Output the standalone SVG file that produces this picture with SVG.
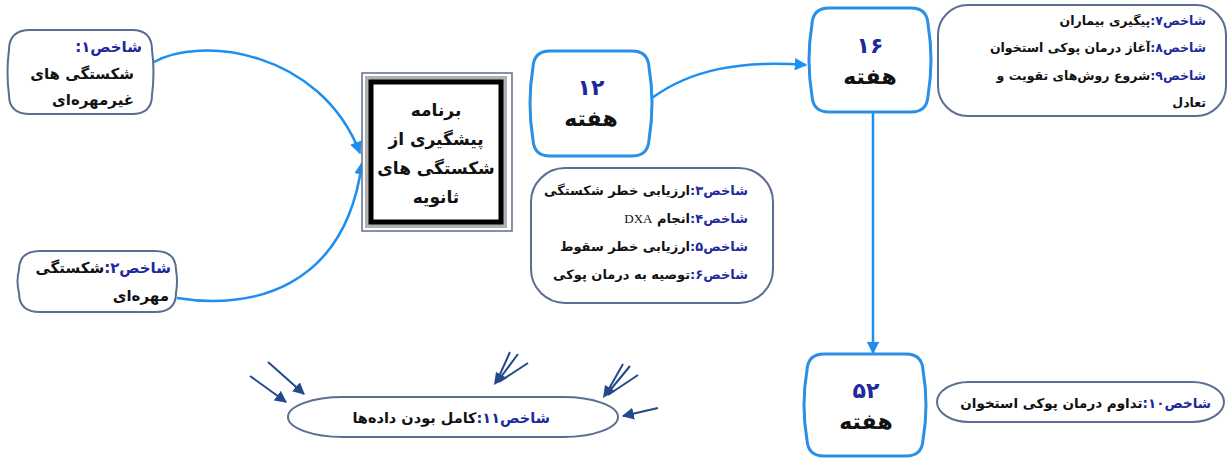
<svg xmlns="http://www.w3.org/2000/svg" width="1229" height="464" viewBox="0 0 1229 464">
<defs>
<style>
.t{font-family:"DejaVu Sans","Noto Sans",sans-serif;font-weight:bold;fill:#111;direction:rtl}
.k{fill:#1c2a9c}
.box{fill:#fff;stroke:#5b6d93;stroke-width:2}
.wk{fill:#fff;stroke:#2a8fe6;stroke-width:3}
.con{fill:none;stroke:#1e8ff0;stroke-width:2.5}
.dec{fill:none;stroke:#23498a;stroke-width:2}
</style>
<marker id="ab" viewBox="0 0 10 10" refX="9" refY="5" markerWidth="5" markerHeight="5" orient="auto" markerUnits="strokeWidth">
<path d="M0,0 L10,5 L0,10 Z" fill="#1e8ff0"/>
</marker>
<marker id="ad" viewBox="0 0 10 10" refX="9" refY="5" markerWidth="6" markerHeight="6" orient="auto" markerUnits="strokeWidth">
<path d="M0,0 L10,5 L0,10 Z" fill="#23498a"/>
</marker>
</defs>
<rect width="1229" height="464" fill="#fff"/>

<g id="connectors">
<path class="con" d="M152,63 C200,35 320,50 360,153" marker-end="url(#ab)"/>
<path class="con" d="M177,298 C250,310 345,290 362,163" marker-end="url(#ab)"/>
<path class="con" d="M652,98 C690,70 740,60 806,65" marker-end="url(#ab)"/>
<path class="con" d="M873,112 L873,353" marker-end="url(#ab)"/>
<path class="dec" d="M250,376 L286,402" marker-end="url(#ad)"/>
<path class="dec" d="M268,362 L304,394" marker-end="url(#ad)"/>
<path class="dec" d="M510,352 L497,381 M518,354 L498,381 M528,363 L499,382"/>
<path fill="#23498a" d="M494,385 L496,372 L507,378 Z"/>
<path class="dec" d="M623,364 L606,394 M630,366 L607,394 M638,375 L608,395"/>
<path fill="#23498a" d="M603,398 L605,385 L615,391 Z"/>
<path class="dec" d="M658,408 L623,416" marker-end="url(#ad)"/>
</g>

<g id="n1">
<path class="box" d="M30,30 L132,30 Q152,30 152,50 Q155,72 152,95 Q152,114 132,114 L30,114 Q9,114 9,95 Q6,72 9,50 Q9,30 30,30 Z"/>
<text class="t" x="142" y="52" font-size="15"><tspan class="k">شاخص۱:</tspan></text>
<text class="t" x="134" y="79" font-size="15">شکستگی های</text>
<text class="t" x="134" y="105" font-size="15">غیرمهره‌ای</text>
</g>

<g id="n2">
<path class="box" d="M40,251 L155,251 Q176,251 176,270 Q178,281 176,293 Q176,312 155,312 L40,312 Q19,312 19,293 Q16,281 19,270 Q19,251 40,251 Z"/>
<text class="t" x="171" y="273" font-size="15"><tspan class="k">شاخص۲:</tspan>شکستگی</text>
<text class="t" x="169" y="301" font-size="15">مهره‌ای</text>
</g>

<g id="n0">
<rect x="362" y="73" width="150" height="158" fill="#fff" stroke="#5b6d93" stroke-width="1.5"/>
<rect x="369" y="80" width="134" height="144" fill="none" stroke="#b0b0b0" stroke-width="8"/>
<rect x="371" y="82" width="130" height="140" fill="#fff" stroke="#000" stroke-width="5"/>
<text class="t" x="436" y="116" font-size="17" text-anchor="middle">برنامه</text>
<text class="t" x="436" y="145" font-size="17" text-anchor="middle">پیشگیری از</text>
<text class="t" x="436" y="174" font-size="17" text-anchor="middle">شکستگی های</text>
<text class="t" x="436" y="203" font-size="17" text-anchor="middle">ثانویه</text>
</g>

<g id="n12">
<path class="wk" d="M550,51 L632,51 Q648,51 649,67 Q655,103 649,140 Q648,156 632,156 L550,156 Q534,156 533,140 Q527,103 533,67 Q534,51 550,51 Z"/>
<text class="t" x="591" y="95" font-size="22" text-anchor="middle" style="fill:#1c2a9c">۱۲</text>
<text class="t" x="591" y="126" font-size="22" text-anchor="middle">هفته</text>
</g>

<g id="n36">
<rect class="box" x="531" y="168" width="242" height="135" rx="34" ry="34"/>
<text class="t" x="748" y="195" font-size="13"><tspan class="k">شاخص۳:</tspan>ارزیابی خطر شکستگی</text>
<text class="t" x="748" y="223" font-size="13"><tspan class="k">شاخص۴:</tspan>انجام <tspan style="font-family:'Liberation Serif',serif;font-weight:normal">DXA</tspan></text>
<text class="t" x="748" y="251" font-size="13"><tspan class="k">شاخص۵:</tspan>ارزیابی خطر سقوط</text>
<text class="t" x="748" y="279" font-size="13"><tspan class="k">شاخص۶:</tspan>توصیه به درمان پوکی</text>
</g>

<g id="n16">
<path class="wk" d="M829,8 L911,8 Q927,8 928,24 Q934,60 928,96 Q927,112 911,112 L829,112 Q813,112 812,96 Q806,60 812,24 Q813,8 829,8 Z"/>
<text class="t" x="870" y="53" font-size="22" text-anchor="middle" style="fill:#1c2a9c">۱۶</text>
<text class="t" x="870" y="84" font-size="22" text-anchor="middle">هفته</text>
</g>

<g id="n79">
<rect class="box" x="938" y="5" width="288" height="111" rx="30" ry="30"/>
<text class="t" x="1206" y="25" font-size="12.5"><tspan class="k">شاخص۷:</tspan>پیگیری بیماران</text>
<text class="t" x="1206" y="52" font-size="12.5"><tspan class="k">شاخص۸:</tspan>آغاز درمان پوکی استخوان</text>
<text class="t" x="1206" y="80" font-size="12.5"><tspan class="k">شاخص۹:</tspan>شروع روش‌های تقویت و</text>
<text class="t" x="1206" y="107" font-size="12.5">تعادل</text>
</g>

<g id="n52">
<path class="wk" d="M824,354 L906,354 Q922,354 923,370 Q929,405 923,440 Q922,456 906,456 L824,456 Q808,456 807,440 Q801,405 807,370 Q808,354 824,354 Z"/>
<text class="t" x="866" y="398" font-size="22" text-anchor="middle" style="fill:#1c2a9c">۵۲</text>
<text class="t" x="866" y="429" font-size="22" text-anchor="middle">هفته</text>
</g>

<g id="n10">
<rect class="box" x="937" y="382" width="287" height="40" rx="32" ry="20"/>
<text class="t" x="1211" y="408" font-size="13.5"><tspan class="k">شاخص۱۰:</tspan>تداوم درمان پوکی استخوان</text>
</g>

<g id="n11">
<rect class="box" x="288" y="397" width="330" height="40" rx="55" ry="20"/>
<text class="t" x="550" y="423" font-size="14.5"><tspan class="k">شاخص۱۱:</tspan>کامل بودن داده‌ها</text>
</g>
</svg>
